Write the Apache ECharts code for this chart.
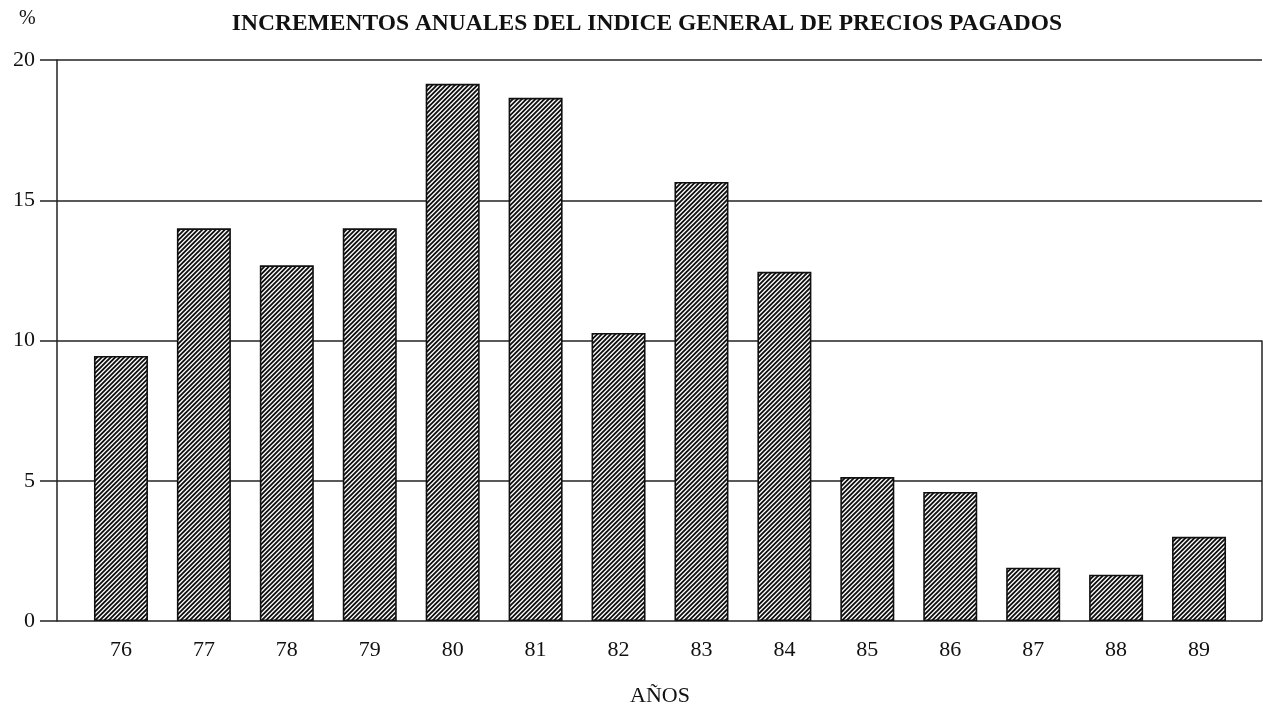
<!DOCTYPE html>
<html><head><meta charset="utf-8">
<script src="https://cdn.jsdelivr.net/npm/echarts@6/dist/echarts.min.js"></script>
<style>html,body{margin:0;padding:0;background:#fff}#c{width:1263px;height:711px}</style>
</head><body><div id="c"></div>
<script>
const years = ['76','77','78','79','80','81','82','83','84','85','86','87','88','89'];
const values = [9.45, 14.0, 12.68, 14.0, 19.15, 18.65, 10.27, 15.65, 12.45, 5.13, 4.6, 1.9, 1.65, 3.0];
const yTicks = [0, 5, 10, 15, 20];
const titleText = 'INCREMENTOS ANUALES DEL INDICE GENERAL DE PRECIOS PAGADOS';

function hatch(){
  const s = 9, c = document.createElement('canvas');
  c.width = s; c.height = s;
  const g = c.getContext('2d');
  g.fillStyle = '#fff'; g.fillRect(0,0,s,s);
  g.strokeStyle = '#111'; g.lineWidth = 1.9;
  g.beginPath();
  [0, 4.5, 9, 13.5, 18].forEach(k => { g.moveTo(k - 10, 10); g.lineTo(k + 10, -10); });
  g.stroke();
  return c;
}

const serif = 'Liberation Serif, Times New Roman, serif';
const chart = echarts.init(document.getElementById('c'));
chart.setOption({
  animation: false,
  backgroundColor: '#fff',
  title: { text: titleText, left: 642, top: 7, textAlign: 'center',
    textStyle: { fontFamily: serif, fontWeight: 'bold', fontSize: 23.5, color: '#111' } },
  graphic: [{ type: 'text', left: 19, top: 9, style: { text: '%', font: '20px ' + serif, fill: '#111' } }],
  grid: [
    { left: 57, right: 1, top: 60, bottom: 90, outerBoundsMode: 'none', containLabel: false },
    { left: 79.5, right: 22.5, top: 60, bottom: 90, outerBoundsMode: 'none', containLabel: false }
  ],
  xAxis: [
    { gridIndex: 0, type: 'value', min: 0, max: 1, show: false },
    { gridIndex: 1, type: 'category', data: years,
      axisLine: { show: false }, axisTick: { show: false },
      axisLabel: { fontFamily: serif, fontSize: 22, color: '#111', margin: 18 },
      name: 'AÑOS', nameLocation: 'middle', nameGap: 64,
      nameTextStyle: { fontFamily: serif, fontSize: 22, color: '#111' } }
  ],
  yAxis: [
    { gridIndex: 0, type: 'value', min: 0, max: 20, interval: 5,
      axisLine: { show: true, lineStyle: { color: '#222', width: 1.5 } },
      axisTick: { show: true, length: 17, lineStyle: { color: '#222', width: 1.5 } },
      axisLabel: { fontFamily: serif, fontSize: 22, color: '#111', margin: 22,
        formatter: v => yTicks.includes(v) ? String(v) : '' },
      splitLine: { show: true, lineStyle: { color: '#222', width: 1.5 } } },
    { gridIndex: 1, type: 'value', min: 0, max: 20, show: false }
  ],
  series: [
    { type: 'line', xAxisIndex: 0, yAxisIndex: 0, data: [], silent: true,
      markLine: { symbol: 'none', silent: true, label: { show: false },
        lineStyle: { color: '#222', width: 1.5, type: 'solid' },
        data: [[{ coord: [1, 0] }, { coord: [1, 10] }]] } },
    { type: 'bar', xAxisIndex: 1, yAxisIndex: 1, data: values, barWidth: 54,
      itemStyle: { color: { image: hatch(), repeat: 'repeat' }, borderColor: '#111', borderWidth: 1.6 } }
  ]
});
</script></body></html>
